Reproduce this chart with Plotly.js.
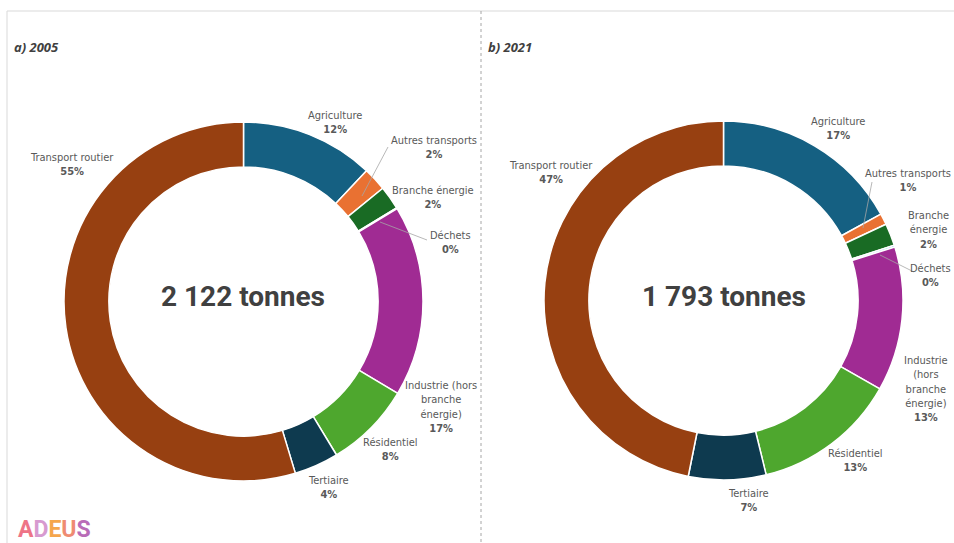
<!DOCTYPE html>
<html>
<head>
<meta charset="utf-8">
<script src="https://cdn.plot.ly/plotly-3.0.1.min.js"></script>
<style>html,body{margin:0;padding:0;background:#fff;}#chart{width:954px;height:543px;}</style>
</head>
<body>
<div id="chart"></div>
<script>
// ---- data ----
const categories = ["Agriculture", "Autres transports", "Branche énergie", "Déchets",
  "Industrie (hors branche énergie)", "Résidentiel", "Tertiaire", "Transport routier"];
const tonnes2005 = [255, 45, 45, 2, 365, 165, 85, 1160];
const tonnes2021 = [305, 18, 36, 3, 233, 233, 125, 840];
const panelTitles = ["a) 2005", "b) 2021"];
// label text as wrapped in each panel
const labels2005 = ["Agriculture", "Autres transports", "Branche énergie", "Déchets",
  "Industrie (hors<br>branche<br>énergie)", "Résidentiel", "Tertiaire", "Transport routier"];
const labels2021 = ["Agriculture", "Autres transports", "Branche<br>énergie", "Déchets",
  "Industrie<br>(hors<br>branche<br>énergie)", "Résidentiel", "Tertiaire", "Transport routier"];
const sliceColors = ["#156082", "#E97132", "#196B24", "#0F9ED5", "#A02B93", "#4EA72E", "#0E3A4F", "#974011"];

// ---- layout helpers ----
const W = 954, H = 543;
const px = x => x / W;
const py = y => 1 - y / H;
const fmtTotal = n => String(n).replace(/\B(?=(\d{3})+(?!\d))/g, " ") + " tonnes";
const pct = (v, arr) => Math.round(v / arr.reduce((a, b) => a + b, 0) * 100) + "%";

function pie(values, cx, cy, r) {
  return {
    type: "pie", labels: categories, values: values, sort: false,
    direction: "clockwise", rotation: 0, hole: 0.75,
    marker: {colors: sliceColors, line: {color: "#ffffff", width: 1.5}},
    textinfo: "none", hoverinfo: "none", showlegend: false,
    domain: {x: [px(cx - r), px(cx + r)], y: [py(cy + r), py(cy - r)]}
  };
}

const labelFont = {family: "Liberation Sans Narrow, DejaVu Sans Condensed, sans-serif", size: 11, color: "#595959"};
const annotations = [];
function addLabel(text, value, arr, x, y, anchor) {
  annotations.push({
    xref: "paper", yref: "paper", x: px(x), y: py(y), xanchor: anchor || "center", yanchor: "top",
    text: text + "<br><b>" + pct(value, arr) + "</b>", showarrow: false, font: labelFont, align: "center"
  });
}
// text-block positions [x, top y, anchor]
const pos2005 = [[335, 107, "center"], [434, 132, "center"], [433, 182, "center"], [450, 227, "center"],
  [441, 377, "center"], [390, 434, "center"], [328, 472, "center"], [72, 149, "center"]];
const pos2021 = [[838, 113, "center"], [953, 165, "right"], [928, 207, "center"], [953, 260, "right"],
  [926, 352, "center"], [855, 445, "center"], [748, 485, "center"], [551, 157, "center"]];
categories.forEach((c, i) => {
  addLabel(labels2005[i], tonnes2005[i], tonnes2005, pos2005[i][0], pos2005[i][1], pos2005[i][2]);
  addLabel(labels2021[i], tonnes2021[i], tonnes2021, pos2021[i][0], pos2021[i][1], pos2021[i][2]);
});
// centre totals
annotations.push({xref: "paper", yref: "paper", x: px(243.5), y: py(296), xanchor: "center", yanchor: "middle", showarrow: false,
  text: "<b>" + fmtTotal(tonnes2005.reduce((a, b) => a + b, 0)) + "</b>",
  font: {family: "Roboto, sans-serif", size: 28, color: "#404040"}});
annotations.push({xref: "paper", yref: "paper", x: px(723.5), y: py(296), xanchor: "center", yanchor: "middle", showarrow: false,
  text: "<b>" + fmtTotal(tonnes2021.reduce((a, b) => a + b, 0)) + "</b>",
  font: {family: "Roboto, sans-serif", size: 28, color: "#404040"}});
// panel titles
[[panelTitles[0], 12], [panelTitles[1], 486]].forEach(([t, x]) => {
  annotations.push({xref: "paper", yref: "paper", x: px(x), y: py(47), xanchor: "left", yanchor: "middle", showarrow: false,
    text: "<b><i>" + t + "</i></b>", font: {family: "Open Sans, sans-serif", size: 13, color: "#404040"}});
});
// logo
annotations.push({xref: "paper", yref: "paper", x: px(16), y: py(529), xanchor: "left", yanchor: "middle", showarrow: false,
  text: '<b><span style="color:#ee7487">A</span><span style="color:#d79ad0">D</span><span style="color:#f5a64c">E</span><span style="color:#ef8b72">U</span><span style="color:#b96cb8">S</span></b>',
  font: {family: "Roboto, sans-serif", size: 23}});

const lineStyle = {color: "#a6a6a6", width: 0.8};
const shapes = [
  {type: "line", xref: "paper", yref: "paper", x0: px(7), x1: px(954), y0: py(11), y1: py(11), line: {color: "#d9d9d9", width: 1}},
  {type: "line", xref: "paper", yref: "paper", x0: px(7), x1: px(7), y0: py(11), y1: py(543), line: {color: "#d9d9d9", width: 1}},
  {type: "line", xref: "paper", yref: "paper", x0: px(481), x1: px(481), y0: py(11), y1: py(543), line: {color: "#a6a6a6", width: 1, dash: "dot"}},
  // leader lines
  {type: "line", xref: "paper", yref: "paper", x0: px(388), x1: px(362), y0: py(147), y1: py(196), line: lineStyle},
  {type: "line", xref: "paper", yref: "paper", x0: px(380), x1: px(427), y0: py(222), y1: py(240), line: lineStyle},
  {type: "line", xref: "paper", yref: "paper", x0: px(872), x1: px(863), y0: py(182), y1: py(228), line: lineStyle},
  {type: "line", xref: "paper", yref: "paper", x0: px(880), x1: px(914), y0: py(255), y1: py(272), line: lineStyle}
];

const layout = {
  width: W, height: H, margin: {l: 0, r: 0, t: 0, b: 0},
  paper_bgcolor: "#ffffff", plot_bgcolor: "#ffffff",
  showlegend: false, annotations: annotations, shapes: shapes
};
Plotly.newPlot("chart", [pie(tonnes2005, 243.5, 301.5, 179.5), pie(tonnes2021, 723.5, 300.5, 179.5)], layout, {displayModeBar: false, staticPlot: true});
</script>
</body>
</html>
